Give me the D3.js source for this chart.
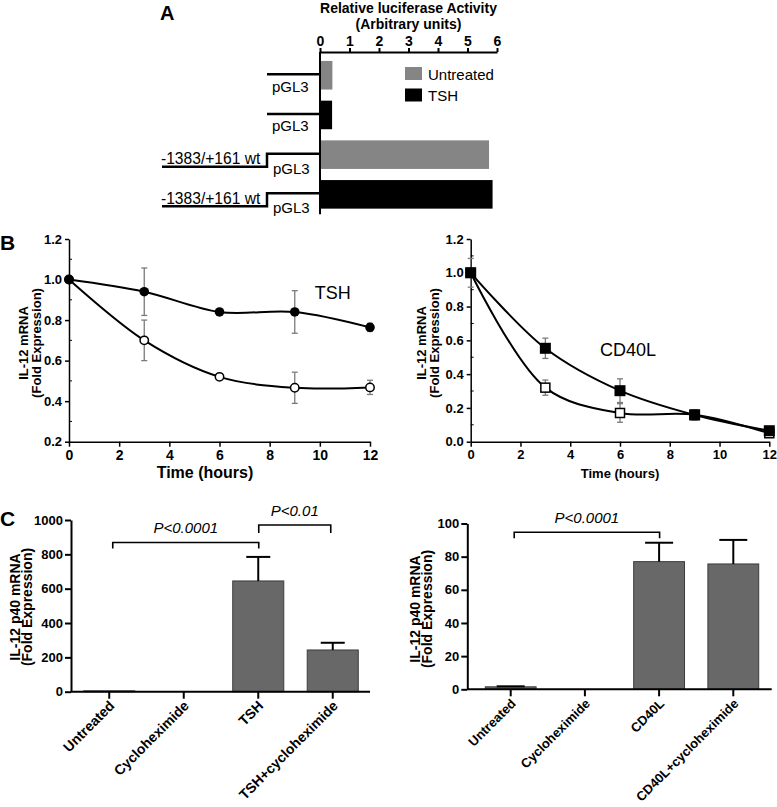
<!DOCTYPE html>
<html><head><meta charset="utf-8">
<script src="https://cdn.jsdelivr.net/npm/d3@7"></script>
<style>
body{margin:0;background:#fff;}
svg{display:block;font-family:"Liberation Sans",Arial,Helvetica,sans-serif;}
</style></head><body>
<svg id="fig" width="777" height="807"></svg>
<script>
// ---------------- DATA ----------------
// Panel A: relative luciferase activity
const aConstructs = ["pGL3", "pGL3", "-1383/+161 wt", "-1383/+161 wt"];
const aTreatment  = ["Untreated", "TSH", "Untreated", "TSH"];
const aActivity   = [0.42, 0.41, 5.73, 5.85];
const aTicks      = [0, 1, 2, 3, 4, 5, 6];
const aLegend     = ["Untreated", "TSH"];

// Panel B: IL-12 mRNA decay (fold expression) over time
const hours      = [0, 3, 6, 9, 12];
const hourTicks  = [0, 2, 4, 6, 8, 10, 12];
const tshFilled    = [1.00, 0.94, 0.84, 0.84, 0.764];
const tshFilledErr = [0, 0.117, 0.012, 0.105, 0.02];
const tshOpen      = [1.00, 0.70, 0.52, 0.466, 0.468];
const tshOpenErr   = [0, 0.10, 0.01, 0.077, 0.035];
const tshYTicks    = [0.2, 0.4, 0.6, 0.8, 1.0, 1.2];
const cdFilled     = [1.00, 0.553, 0.302, 0.158, 0.065];
const cdFilledErr  = [0.085, 0.06, 0.07, 0.03, 0.02];
const cdOpen       = [1.00, 0.32, 0.17, 0.16, 0.05];
const cdOpenErr    = [0, 0.045, 0.055, 0.02, 0.01];
const cdYTicks     = [0, 0.2, 0.4, 0.6, 0.8, 1.0, 1.2];

// Panel C: IL-12 p40 mRNA (fold expression)
const cTshCats  = ["Untreated", "Cycloheximide", "TSH", "TSH+cycloheximide"];
const cTshVals  = [5, 0, 645, 243];
const cTshErr   = [0, 0, 140, 42];
const cTshTicks = [0, 200, 400, 600, 800, 1000];
const cCdCats   = ["Untreated", "Cycloheximide", "CD40L", "CD40L+cycloheximide"];
const cCdVals   = [1.5, 0, 77, 75.6];
const cCdErr    = [0.3, 0, 11.4, 14.5];
const cCdTicks  = [0, 20, 40, 60, 80, 100];
const cTshBrackets = [
  {from: "Untreated", to: "TSH", level: 869, leg: 6, label: "P<0.0001"},
  {from: "TSH", to: "TSH+cycloheximide", level: 971, leg: 8, label: "P<0.01"}
];
const cCdBrackets = [
  {from: "Untreated", to: "CD40L", level: 94.7, leg: 6, label: "P<0.0001"}
];

// ---------------- DRAW ----------------
const svg = d3.select("#fig");
svg.append("rect").attr("width", 777).attr("height", 807).attr("fill", "#fff");

function styleAxis(g, size, weight, sw) {
  g.attr("font-family", null).attr("font-size", null);
  g.selectAll(".tick text").attr("font-size", size).attr("font-weight", weight).attr("fill", "#000");
  g.selectAll(".tick line").attr("stroke", "#000").attr("stroke-width", sw || 1.5);
  g.select(".domain").attr("stroke", "#000").attr("stroke-width", sw || 1.5);
}
function letter(t, x, y, s) {
  svg.append("text").attr("x", x).attr("y", y).attr("font-size", s).attr("font-weight", "bold").text(t);
}

// ===== Panel A =====
letter("A", 160, 19.5, 20);
const gA = svg.append("g");
const xA = d3.scaleLinear().domain([0, 6]).range([320, 497]);
const yA = d3.scaleBand().domain(d3.range(aActivity.length)).range([55.4, 214.2]).paddingInner(0.28).paddingOuter(0.14);
const colA = d3.scaleOrdinal().domain(aLegend).range(["#858585", "#000000"]);
const axTopY = 52;
gA.append("g").attr("transform", `translate(0,${axTopY})`)
  .call(d3.axisTop(xA).tickValues(aTicks).tickFormat(d3.format("d")).tickSize(4).tickPadding(2).tickSizeOuter(0))
  .call(g => styleAxis(g, 14, "bold", 2));
const aMid = (xA.range()[0] + xA.range()[1]) / 2;
gA.append("text").attr("x", aMid).attr("y", 12.5)
  .attr("text-anchor", "middle").attr("font-size", 14).attr("font-weight", "bold").text("Relative luciferase Activity");
gA.append("text").attr("x", aMid).attr("y", 28.5)
  .attr("text-anchor", "middle").attr("font-size", 14).attr("font-weight", "bold").text("(Arbitrary units)");
gA.selectAll("rect.bar").data(aActivity).join("rect").attr("class", "bar")
  .attr("x", xA(0)).attr("y", (d, i) => yA(i))
  .attr("width", d => xA(d) - xA(0)).attr("height", yA.bandwidth())
  .attr("fill", (d, i) => colA(aTreatment[i]));
gA.append("line").attr("x1", xA(0)).attr("x2", xA(0)).attr("y1", axTopY).attr("y2", yA.range()[1])
  .attr("stroke", "#000").attr("stroke-width", 2);
// promoter construct diagrams
aConstructs.forEach((c, i) => {
  const yc = yA(i) + yA.bandwidth() / 2 - 1;
  const xs = xA(0) - 53;
  const gg = gA.append("g").attr("fill", "none").attr("stroke", "#000").attr("stroke-width", 2.5);
  if (c === "pGL3") {
    gg.append("line").attr("x1", xs).attr("x2", xA(0)).attr("y1", yc).attr("y2", yc);
    gA.append("text").attr("x", xs + 5).attr("y", yc + 17.5).attr("font-size", 15).text("pGL3");
  } else {
    gg.append("path").attr("d", `M${xA(0)},${yc}H${xs}V${yc + 13}H${xs - 105}`);
    gA.append("text").attr("x", xs - 106).attr("y", yc + 10.5).attr("font-size", 15.6).text(c);
    gA.append("text").attr("x", xs + 6).attr("y", yc + 20).attr("font-size", 15).text("pGL3");
  }
});
// legend
aLegend.forEach((l, i) => {
  gA.append("rect").attr("x", 405).attr("y", 67 + i * 21.5).attr("width", 17).attr("height", 13).attr("fill", colA(l));
  gA.append("text").attr("x", 428).attr("y", 79.5 + i * 21.5).attr("font-size", 15).text(l);
});

// ===== Panel B =====
letter("B", 0, 250, 21);
function timePanel(cfg) {
  const g = svg.append("g");
  const x = d3.scaleLinear().domain([0, 12]).range(cfg.xr);
  const y = d3.scaleLinear().domain([cfg.yTicks[0], cfg.yTicks[cfg.yTicks.length - 1]]).range(cfg.yr);
  g.append("g").attr("transform", `translate(0,${cfg.yr[0]})`)
    .call(d3.axisBottom(x).tickValues(hourTicks).tickSize(5).tickPadding(3).tickSizeOuter(0))
    .call(a => styleAxis(a, cfg.xtf, "bold", 1.5));
  g.append("g").attr("transform", `translate(${cfg.xr[0]},0)`)
    .call(d3.axisLeft(y).tickValues(cfg.yTicks).tickFormat(d3.format(".1f")).tickSize(4).tickPadding(3).tickSizeOuter(0))
    .call(a => styleAxis(a, 13, "bold", 1.5));
  const minor = d3.pairs(cfg.yTicks).map(p => (p[0] + p[1]) / 2);
  g.selectAll("line.minor").data(minor).join("line").attr("class", "minor")
    .attr("x1", cfg.xr[0]).attr("x2", cfg.xr[0] + 3).attr("y1", d => y(d)).attr("y2", d => y(d))
    .attr("stroke", "#000").attr("stroke-width", 1);
  const line = d3.line().x((d, i) => x(hours[i])).y(d => y(d)).curve(d3.curveCatmullRom.alpha(0.5));
  cfg.series.forEach(s => {
    g.append("path").attr("d", line(s.vals)).attr("fill", "none").attr("stroke", "#000").attr("stroke-width", 2);
  });
  cfg.series.forEach(s => {
    const eg = g.append("g").attr("stroke", "#7a7a7a").attr("stroke-width", 1.3);
    s.vals.forEach((v, i) => {
      if (!s.err[i]) return;
      const xx = x(hours[i]);
      eg.append("line").attr("x1", xx).attr("x2", xx).attr("y1", y(v - s.err[i])).attr("y2", y(v + s.err[i]));
      [v - s.err[i], v + s.err[i]].forEach(e => eg.append("line").attr("x1", xx - 3).attr("x2", xx + 3).attr("y1", y(e)).attr("y2", y(e)));
    });
  });
  cfg.series.forEach(s => {
    const mg = g.append("g");
    s.vals.forEach((v, i) => {
      const xx = x(hours[i]), yy = y(v);
      if (s.shape === "circle") {
        mg.append("circle").attr("cx", xx).attr("cy", yy).attr("r", s.filled ? 4.8 : 4.2)
          .attr("fill", s.filled ? "#000" : "#fff").attr("stroke", "#000").attr("stroke-width", s.filled ? 0 : 1.5);
      } else {
        const sz = s.filled ? 11 : 9;
        mg.append("rect").attr("x", xx - sz / 2).attr("y", yy - sz / 2).attr("width", sz).attr("height", sz)
          .attr("fill", s.filled ? "#000" : "#fff").attr("stroke", "#000").attr("stroke-width", s.filled ? 0 : 1.5);
      }
    });
  });
  // labels
  g.append("text").attr("x", x(cfg.tag.t)).attr("y", y(cfg.tag.v)).attr("font-size", 18).text(cfg.tag.text);
  g.append("text").attr("x", cfg.xTitleX).attr("y", 478).attr("text-anchor", "middle")
    .attr("font-size", cfg.xTitleSize).attr("font-weight", "bold").text("Time (hours)");
  const cy = 343;
  g.append("text").attr("transform", `translate(${cfg.ylX[0]},${cy}) rotate(-90)`).attr("text-anchor", "middle")
    .attr("font-size", 13).attr("font-weight", "bold").text("IL-12 mRNA");
  g.append("text").attr("transform", `translate(${cfg.ylX[1]},${cy}) rotate(-90)`).attr("text-anchor", "middle")
    .attr("font-size", 13).attr("font-weight", "bold").text("(Fold Expression)");
}
timePanel({
  xr: [69, 370], yr: [441.7, 239], yTicks: tshYTicks, xtf: 14, xTitleX: 205, xTitleSize: 16,
  ylX: [28, 41],
  series: [
    {vals: tshOpen, err: tshOpenErr, shape: "circle", filled: false},
    {vals: tshFilled, err: tshFilledErr, shape: "circle", filled: true}
  ],
  tag: {t: 9.8, v: 0.905, text: "TSH"}
});
timePanel({
  xr: [470.7, 769.3], yr: [441.7, 239], yTicks: cdYTicks, xtf: 13, xTitleX: 620, xTitleSize: 13,
  ylX: [426, 439],
  series: [
    {vals: cdOpen, err: cdOpenErr, shape: "square", filled: false},
    {vals: cdFilled, err: cdFilledErr, shape: "square", filled: true}
  ],
  tag: {t: 5.2, v: 0.505, text: "CD40L"}
});

// ===== Panel C =====
letter("C", 0, 526, 21);
function barPanel(cfg) {
  const g = svg.append("g");
  const x = d3.scaleBand().domain(cfg.cats).range(cfg.xr).paddingInner(0.315).paddingOuter(0.1575);
  const y = d3.scaleLinear().domain([0, cfg.ticks[cfg.ticks.length - 1]]).range(cfg.yr);
  const bw = x.bandwidth();
  // bars
  const shown = cfg.cats.map((c, i) => ({c, v: cfg.vals[i]})).filter(d => d.v > 0);
  g.selectAll("rect.bar").data(shown).join("rect").attr("class", "bar")
    .attr("x", d => x(d.c)).attr("y", d => y(d.v)).attr("width", bw).attr("height", d => y(0) - y(d.v))
    .attr("fill", "#686868").attr("stroke", "#3c3c3c").attr("stroke-width", 1);
  // error bars
  const eg = g.append("g").attr("stroke", "#000").attr("stroke-width", 2);
  cfg.vals.forEach((v, i) => {
    if (!cfg.err[i]) return;
    const cx = x(cfg.cats[i]) + bw / 2;
    eg.append("line").attr("x1", cx).attr("x2", cx).attr("y1", y(v)).attr("y2", y(v + cfg.err[i]));
    eg.append("line").attr("x1", cx - cfg.cap).attr("x2", cx + cfg.cap).attr("y1", y(v + cfg.err[i])).attr("y2", y(v + cfg.err[i]));
  });
  // axes
  g.append("g").attr("transform", `translate(${cfg.axX},0)`)
    .call(d3.axisLeft(y).tickValues(cfg.ticks).tickFormat(d3.format("d")).tickSize(6).tickPadding(2).tickSizeOuter(0))
    .call(a => styleAxis(a, 13, "bold", 2));
  const xa = g.append("g").attr("transform", `translate(0,${cfg.yr[0]})`)
    .call(d3.axisBottom(x).tickSize(7).tickSizeOuter(0))
    .call(a => styleAxis(a, cfg.labelSize, "bold", 2));
  xa.select(".domain").remove();
  xa.selectAll(".tick text").attr("x", null).attr("y", null).attr("dy", null)
    .attr("text-anchor", "end").attr("transform", "translate(6,15) rotate(-45)");
  g.append("line").attr("x1", cfg.axX).attr("x2", cfg.xEnd).attr("y1", cfg.yr[0]).attr("y2", cfg.yr[0])
    .attr("stroke", "#000").attr("stroke-width", 2);
  // significance brackets
  cfg.brackets.forEach(b => {
    const x1 = x(b.from) + bw / 2 + (b.from === cfg.cats[0] ? 3.5 : 0.5);
    const x2 = x(b.to) + bw / 2 + (b.to === cfg.cats[3] ? -2 : 0.5);
    const yy = y(b.level);
    g.append("path").attr("d", `M${x1},${yy + b.leg}V${yy}H${x2}V${yy + b.leg}`)
      .attr("fill", "none").attr("stroke", "#000").attr("stroke-width", 1.6);
    g.append("text").attr("x", (x1 + x2) / 2).attr("y", yy - 9).attr("text-anchor", "middle")
      .attr("font-size", 15).attr("font-style", "italic").text(b.label);
  });
  // y label
  g.append("text").attr("transform", `translate(${cfg.ylX[0]},${cfg.ylY}) rotate(-90)`).attr("text-anchor", "middle")
    .attr("font-size", 14).attr("font-weight", "bold").text("IL-12 p40 mRNA");
  g.append("text").attr("transform", `translate(${cfg.ylX[1]},${cfg.ylY}) rotate(-90)`).attr("text-anchor", "middle")
    .attr("font-size", 14).attr("font-weight", "bold").text("(Fold Expression)");
}
barPanel({
  cats: cTshCats, vals: cTshVals, err: cTshErr, ticks: cTshTicks, brackets: cTshBrackets, labelSize: 14,
  xr: [72, 370], yr: [691.7, 520], axX: 71, xEnd: 370, cap: 12, ylX: [20, 32], ylY: 607
});
barPanel({
  cats: cCdCats, vals: cCdVals, err: cCdErr, ticks: cCdTicks, brackets: cCdBrackets, labelSize: 13,
  xr: [473.6, 770.4], yr: [689.3, 523.5], axX: 467.3, xEnd: 771.7, cap: 14, ylX: [420, 432], ylY: 609
});
</script>
</body></html>
